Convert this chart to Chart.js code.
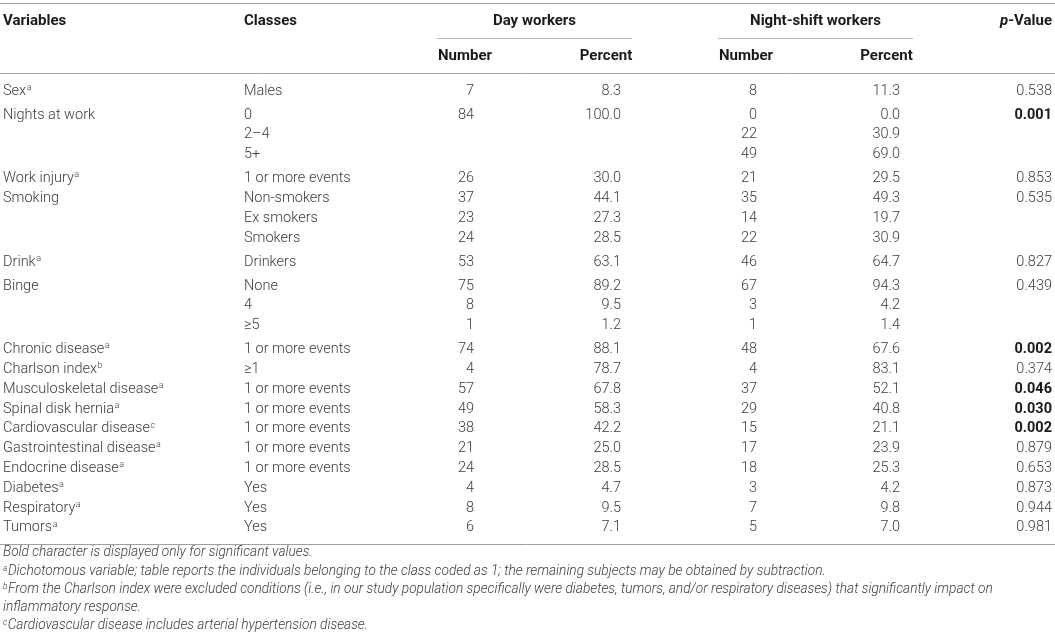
<!DOCTYPE html>
<html>
<head>
<meta charset="utf-8">
<script src="https://cdn.jsdelivr.net/npm/chart.js@4.4.1/dist/chart.umd.min.js"></script>
<style>
  html, body { margin: 0; padding: 0; background: #fff; }
  canvas { display: block; }
</style>
</head>
<body>
<canvas id="tabela" width="1055" height="644"></canvas>
<script>
// dados da tabela, uma linha por classe
const variables = ['Sex', 'Nights at work', '', '', 'Work injury', 'Smoking', '', '', 'Drink', 'Binge', '', '',
  'Chronic disease', 'Charlson index', 'Musculoskeletal disease', 'Spinal disk hernia', 'Cardiovascular disease',
  'Gastrointestinal disease', 'Endocrine disease', 'Diabetes', 'Respiratory', 'Tumors'];
const notes = ['a', '', '', '', 'a', '', '', '', 'a', '', '', '', 'a', 'b', 'a', 'a', 'c', 'a', 'a', 'a', 'a', 'a'];
const classes = ['Males', '0', '2–4', '5+', '1 or more events', 'Non-smokers', 'Ex smokers', 'Smokers', 'Drinkers',
  'None', '4', '≥5', '1 or more events', '≥1', '1 or more events', '1 or more events', '1 or more events',
  '1 or more events', '1 or more events', 'Yes', 'Yes', 'Yes'];
const dayNumber = [7, 84, null, null, 26, 37, 23, 24, 53, 75, 8, 1, 74, 4, 57, 49, 38, 21, 24, 4, 8, 6];
const dayPercent = [8.3, 100.0, null, null, 30.0, 44.1, 27.3, 28.5, 63.1, 89.2, 9.5, 1.2, 88.1, 78.7, 67.8, 58.3, 42.2, 25.0, 28.5, 4.7, 9.5, 7.1];
const nightNumber = [8, 0, 22, 49, 21, 35, 14, 22, 46, 67, 3, 1, 48, 4, 37, 29, 15, 17, 18, 3, 7, 5];
const nightPercent = [11.3, 0.0, 30.9, 69.0, 29.5, 49.3, 19.7, 30.9, 64.7, 94.3, 4.2, 1.4, 67.6, 83.1, 52.1, 40.8, 21.1, 23.9, 25.3, 4.2, 9.8, 7.0];
const pValues = [0.538, 0.001, null, null, 0.853, 0.535, null, null, 0.827, 0.439, null, null, 0.002, 0.374, 0.046, 0.030, 0.002, 0.879, 0.653, 0.873, 0.944, 0.981];

const groupHeaders = ['Day workers', 'Night-shift workers'];
const subHeaders = ['Number', 'Percent'];
const footnotes = [
  ['', 'Bold character is displayed only for significant values.'],
  ['a', 'Dichotomous variable; table reports the individuals belonging to the class coded as 1; the remaining subjects may be obtained by subtraction.'],
  ['b', 'From the Charlson index were excluded conditions (i.e., in our study population specifically were diabetes, tumors, and/or respiratory diseases) that significantly impact on'],
  ['', 'inflammatory response.'],
  ['c', 'Cardiovascular disease includes arterial hypertension disease.']
];

// layout (unidades = pixels da imagem)
const FONT = 'Roboto, "Liberation Sans", sans-serif';
const LIGHT = '#3c3c3c';
const DARK = '#1a1a1a';
const BODY = '14.5px ';
const HEAD = 'bold 15px ';
const gapRows = [1, 4, 8, 9, 12];
const rowY = i => 91 + 19.8 * i + 4.2 * gapRows.filter(g => g <= i).length;

const columns = [
  { key: 'var', x: 3, align: 'left' },
  { key: 'cls', x: 244, align: 'left' },
  { key: 'dn', x: 474, align: 'right' },
  { key: 'dp', x: 621, align: 'right' },
  { key: 'nn', x: 757, align: 'right' },
  { key: 'np', x: 900, align: 'right' },
  { key: 'p', x: 1052, align: 'right' }
];

function makeSet(col, values, fmt) {
  const data = [], texts = [];
  values.forEach((v, i) => {
    if (v === null || v === '') return;
    data.push({ x: col.x, y: rowY(i) });
    texts.push({ text: fmt(v), note: col.key === 'var' ? notes[i] : '', bold: col.key === 'p' && v < 0.05 });
  });
  return { label: col.key, data, texts, align: col.align, pointRadius: 0, showLine: false };
}

const datasets = [
  makeSet(columns[0], variables, v => v),
  makeSet(columns[1], classes, v => v),
  makeSet(columns[2], dayNumber, v => String(v)),
  makeSet(columns[3], dayPercent, v => v.toFixed(1)),
  makeSet(columns[4], nightNumber, v => String(v)),
  makeSet(columns[5], nightPercent, v => v.toFixed(1)),
  makeSet(columns[6], pValues, v => v.toFixed(3))
];

function hline(ctx, sx, sy, x1, x2, y, color) {
  const py = Math.round(sy.getPixelForValue(y)) + 0.5;
  ctx.strokeStyle = color;
  ctx.lineWidth = 1;
  ctx.beginPath();
  ctx.moveTo(sx.getPixelForValue(x1), py);
  ctx.lineTo(sx.getPixelForValue(x2), py);
  ctx.stroke();
}

const tablePlugin = {
  id: 'tablePlugin',
  afterDatasetsDraw(chart) {
    const ctx = chart.ctx;
    const sx = chart.scales.x, sy = chart.scales.y;
    ctx.save();
    ctx.textBaseline = 'middle';

    // linhas
    hline(ctx, sx, sy, 0, 1055, 3, '#a0a0a0');
    hline(ctx, sx, sy, 437, 632, 38, '#b8b8b8');
    hline(ctx, sx, sy, 718, 913, 38, '#b8b8b8');
    hline(ctx, sx, sy, 0, 1055, 73, '#a0a0a0');
    hline(ctx, sx, sy, 0, 1055, 544, '#a0a0a0');

    // cabecalho
    ctx.fillStyle = DARK;
    ctx.font = HEAD + FONT;
    ctx.textAlign = 'left';
    ctx.fillText('Variables', sx.getPixelForValue(3), sy.getPixelForValue(21));
    ctx.fillText('Classes', sx.getPixelForValue(244), sy.getPixelForValue(21));
    ctx.textAlign = 'center';
    ctx.fillText(groupHeaders[0], sx.getPixelForValue(534.5), sy.getPixelForValue(21));
    ctx.fillText(groupHeaders[1], sx.getPixelForValue(815.5), sy.getPixelForValue(21));
    ctx.fillText(subHeaders[0], sx.getPixelForValue(465), sy.getPixelForValue(56));
    ctx.fillText(subHeaders[1], sx.getPixelForValue(606), sy.getPixelForValue(56));
    ctx.fillText(subHeaders[0], sx.getPixelForValue(746), sy.getPixelForValue(56));
    ctx.fillText(subHeaders[1], sx.getPixelForValue(886.5), sy.getPixelForValue(56));
    // p-Value com p em italico
    ctx.textAlign = 'left';
    const rest = '-Value';
    const wRest = ctx.measureText(rest).width;
    ctx.font = 'italic ' + HEAD + FONT;
    const wP = ctx.measureText('p').width;
    const px = sx.getPixelForValue(1052) - wRest - wP;
    ctx.fillText('p', px, sy.getPixelForValue(21));
    ctx.font = HEAD + FONT;
    ctx.fillText(rest, px + wP, sy.getPixelForValue(21));

    // celulas
    chart.data.datasets.forEach((ds, di) => {
      const meta = chart.getDatasetMeta(di);
      meta.data.forEach((pt, i) => {
        const t = ds.texts[i];
        ctx.font = (t.bold ? 'bold ' : '300 ') + BODY + FONT;
        ctx.fillStyle = t.bold ? DARK : LIGHT;
        ctx.textAlign = ds.align;
        ctx.fillText(t.text, pt.x, pt.y);
        if (t.note) {
          const w = ctx.measureText(t.text).width;
          ctx.font = '300 9px ' + FONT;
          ctx.textAlign = 'left';
          ctx.fillText(t.note, pt.x + w + 0.5, pt.y - 3.5);
        }
      });
    });

    // notas de rodape
    const footY = [553, 572, 590, 608, 626];
    footnotes.forEach((f, i) => {
      let x = sx.getPixelForValue(3);
      const y = sy.getPixelForValue(footY[i]);
      ctx.fillStyle = LIGHT;
      ctx.textAlign = 'left';
      if (f[0]) {
        ctx.font = 'italic 300 8.5px ' + FONT;
        ctx.fillText(f[0], x, y - 3.5);
        x += ctx.measureText(f[0]).width + 0.5;
      }
      ctx.font = 'italic 300 13.7px ' + FONT;
      ctx.fillText(f[1], x, y);
    });
    ctx.restore();
  }
};

new Chart(document.getElementById('tabela').getContext('2d'), {
  type: 'scatter',
  data: { datasets },
  options: {
    responsive: false,
    animation: false,
    events: [],
    layout: { padding: 0 },
    plugins: { legend: { display: false }, tooltip: { enabled: false } },
    scales: {
      x: { type: 'linear', min: 0, max: 1055, display: false },
      y: { type: 'linear', min: 0, max: 644, reverse: true, display: false }
    }
  },
  plugins: [tablePlugin]
});
</script>
</body>
</html>
